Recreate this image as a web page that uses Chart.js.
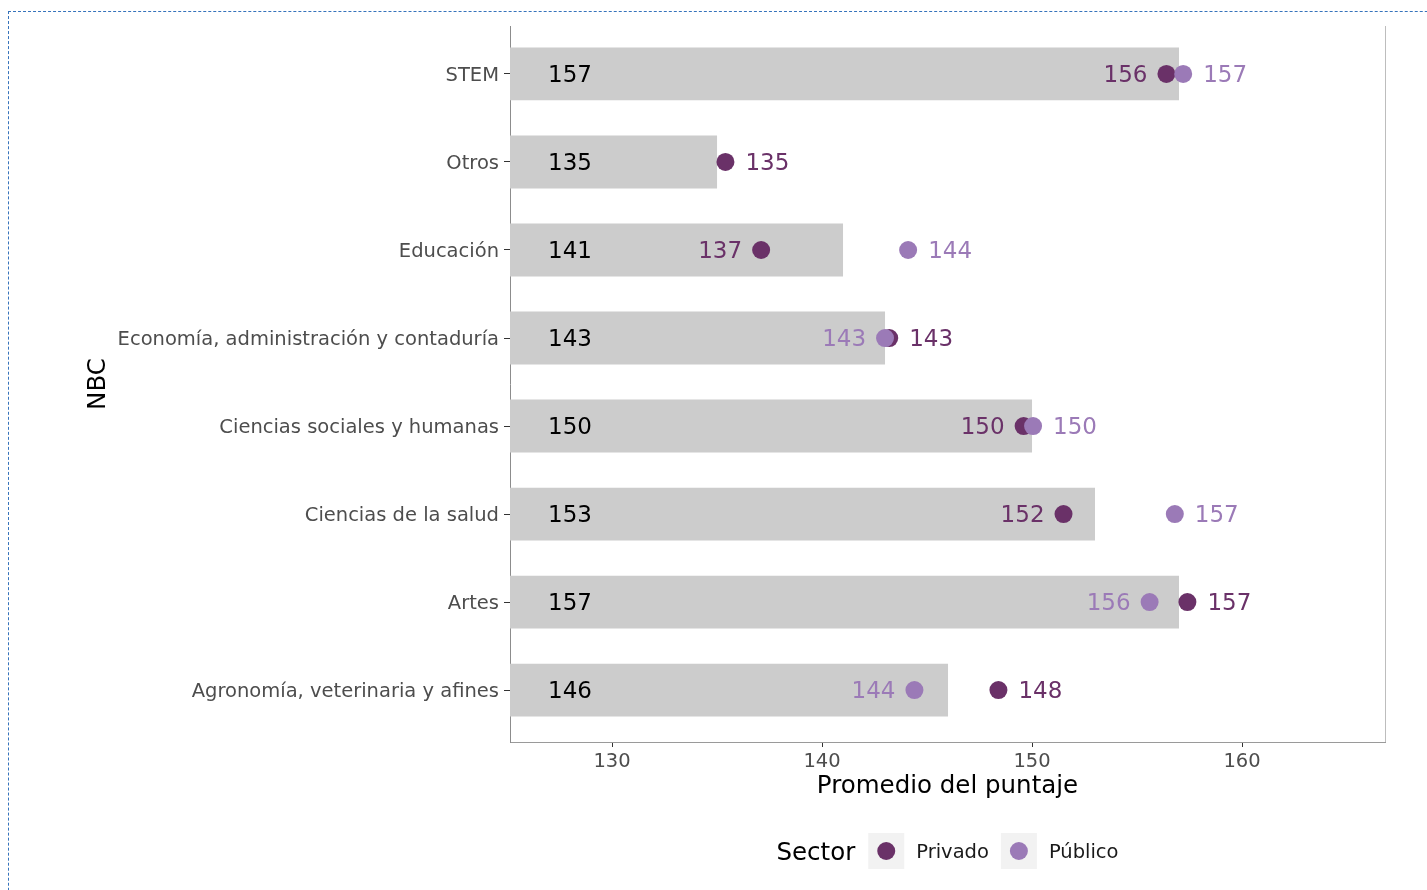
<!DOCTYPE html>
<html><head><meta charset="utf-8">
<script src="https://cdn.jsdelivr.net/npm/chart.js@4"></script>
<style>
html,body{margin:0;padding:0;overflow:hidden;background:#fff;width:1427px;height:890px}
#frame{position:absolute;left:8px;top:11px;width:1600px;height:1000px;border:1px dashed #3673bb;box-sizing:border-box;}
#c{position:absolute;left:0;top:0}
</style></head><body>
<div id="frame"></div>
<canvas id="c" width="1427" height="890"></canvas>
<script>
const categories = ['STEM','Otros','Educación','Economía, administración y contaduría','Ciencias sociales y humanas','Ciencias de la salud','Artes','Agronomía, veterinaria y afines'];
const overallValues = [157.0, 135.0, 141.0, 143.0, 150.0, 153.0, 157.0, 146.0];
const privadoValues = [156.4, 135.4, 137.1, 143.2, 149.6, 151.5, 157.4, 148.4];
const publicoValues = [157.2, null, 144.1, 143.0, 150.05, 156.8, 155.6, 144.4];
const xTickValues = [130, 140, 150, 160];
const seriesNames = ['Privado', 'Público'];
const seriesColors = ['#6a3168', '#9b7ab7'];
const FONT = '"DejaVu Sans", Verdana, sans-serif';

Chart.defaults.font.family = FONT;

function toPoints(vals) {
  const out = [];
  vals.forEach((v, i) => { if (v != null) out.push({x: v, y: i}); });
  return out;
}

const rightBorder = {
  id: 'rightBorder',
  beforeDatasetsDraw(chart) {
    const {ctx, chartArea} = chart;
    ctx.save();
    ctx.strokeStyle = '#bdbdbd';
    ctx.lineWidth = 1;
    ctx.beginPath();
    ctx.moveTo(Math.round(chartArea.right) + 0.5, chartArea.top);
    ctx.lineTo(Math.round(chartArea.right) + 0.5, chartArea.bottom);
    ctx.stroke();
    ctx.restore();
  }
};

const labelPlugin = {
  id: 'valueLabels',
  afterDatasetsDraw(chart) {
    const {ctx, chartArea, scales: {x, y}} = chart;
    const fs = 23;
    ctx.save();
    ctx.font = fs + 'px ' + FONT;
    ctx.textBaseline = 'alphabetic';
    categories.forEach((cat, i) => {
      const by = y.getPixelForValue(i) + fs * 0.365;
      ctx.fillStyle = '#000000';
      ctx.textAlign = 'left';
      ctx.fillText(String(Math.round(overallValues[i])), chartArea.left + 38, by);
      const pts = [];
      if (privadoValues[i] != null) pts.push({v: privadoValues[i], c: seriesColors[0]});
      if (publicoValues[i] != null) pts.push({v: publicoValues[i], c: seriesColors[1]});
      pts.sort((a, b) => a.v - b.v);
      const drawRight = p => {
        ctx.fillStyle = p.c; ctx.textAlign = 'left';
        ctx.fillText(String(Math.round(p.v)), x.getPixelForValue(p.v) + 20, by);
      };
      const drawLeft = p => {
        ctx.fillStyle = p.c; ctx.textAlign = 'right';
        ctx.fillText(String(Math.round(p.v)), x.getPixelForValue(p.v) - 19, by);
      };
      if (pts.length === 2) { drawLeft(pts[0]); drawRight(pts[1]); }
      else if (pts.length === 1) { drawRight(pts[0]); }
    });
    ctx.restore();
  }
};

const legendPlugin = {
  id: 'sectorLegend',
  afterDraw(chart) {
    const {ctx, chartArea} = chart;
    ctx.save();
    const cy = chartArea.bottom + 109;
    ctx.font = '24.5px ' + FONT;
    const wTitle = ctx.measureText('Sector').width;
    ctx.font = '19.5px ' + FONT;
    const wItems = seriesNames.map(n => ctx.measureText(n).width);
    const box = 36, gTitle = 13, gBox = 12, gItem = 12;
    let total = wTitle;
    wItems.forEach((w, k) => { total += (k === 0 ? gTitle : gItem) + box + gBox + w; });
    let cx = (chartArea.left + chartArea.right) / 2 - total / 2;
    ctx.textBaseline = 'alphabetic';
    ctx.textAlign = 'left';
    ctx.fillStyle = '#000000';
    ctx.font = '24.5px ' + FONT;
    ctx.fillText('Sector', cx, cy + 24 * 0.365);
    cx += wTitle;
    seriesNames.forEach((n, k) => {
      cx += (k === 0 ? gTitle : gItem);
      ctx.fillStyle = '#f2f2f2';
      ctx.fillRect(cx, cy - box / 2, box, box);
      ctx.fillStyle = seriesColors[k];
      ctx.beginPath();
      ctx.arc(cx + box / 2, cy, 9, 0, Math.PI * 2);
      ctx.fill();
      cx += box + gBox;
      ctx.fillStyle = '#1a1a1a';
      ctx.font = '19.5px ' + FONT;
      ctx.fillText(n, cx, cy + 19 * 0.365);
      cx += wItems[k];
    });
    ctx.restore();
  }
};

new Chart(document.getElementById('c'), {
  type: 'bar',
  data: {
    datasets: [
      {type: 'bar', label: 'Promedio', data: toPoints(overallValues), backgroundColor: '#cccccc',
       barPercentage: 0.6, categoryPercentage: 1, order: 3},
      {type: 'line', label: seriesNames[0], data: toPoints(privadoValues), showLine: false,
       pointRadius: 9, pointHoverRadius: 9, pointBorderWidth: 0, pointBackgroundColor: seriesColors[0],
       borderColor: seriesColors[0], backgroundColor: seriesColors[0], order: 2},
      {type: 'line', label: seriesNames[1], data: toPoints(publicoValues), showLine: false,
       pointRadius: 9, pointHoverRadius: 9, pointBorderWidth: 0, pointBackgroundColor: seriesColors[1],
       borderColor: seriesColors[1], backgroundColor: seriesColors[1], order: 1}
    ]
  },
  options: {
    indexAxis: 'y',
    responsive: false,
    animation: false,
    devicePixelRatio: 1,
    layout: {padding: {top: 26, right: 42, bottom: 86, left: 0}},
    plugins: {legend: {display: false}, tooltip: {enabled: false}},
    scales: {
      x: {
        type: 'linear', position: 'bottom', min: 125.14, max: 166.81, bounds: 'data', offset: false,
        afterBuildTicks: s => { s.ticks = xTickValues.map(v => ({value: v})); },
        afterFit: s => { s.height = 62; },
        grid: {display: true, offset: false, drawOnChartArea: false, drawTicks: true, tickLength: 5, color: '#333333', lineWidth: 1},
        border: {display: true, color: '#9a9a9a', width: 1},
        ticks: {font: {size: 19.5}, color: '#4d4d4d', padding: 3, maxRotation: 0, autoSkip: false},
        title: {display: true, text: 'Promedio del puntaje', font: {size: 24.5}, color: '#000000', padding: {top: 0, bottom: 3}}
      },
      y: {
        type: 'linear', position: 'left', reverse: true, min: -0.545, max: 7.59, bounds: 'data', offset: false,
        afterBuildTicks: s => { s.ticks = categories.map((c, i) => ({value: i})); },
        afterFit: s => { s.width = 510; },
        grid: {display: true, offset: false, drawOnChartArea: false, drawTicks: true, tickLength: 6, color: '#333333', lineWidth: 1},
        border: {display: true, color: '#8c8c8c', width: 1},
        ticks: {font: {size: 19.5}, color: '#4d4d4d', padding: 5, labelOffset: 1.5, autoSkip: false, callback: v => categories[v]},
        title: {display: true, text: 'NBC', font: {size: 24.5}, color: '#000000', padding: {top: 84, bottom: 0}}
      }
    }
  },
  plugins: [rightBorder, labelPlugin, legendPlugin]
});
</script>
</body></html>
